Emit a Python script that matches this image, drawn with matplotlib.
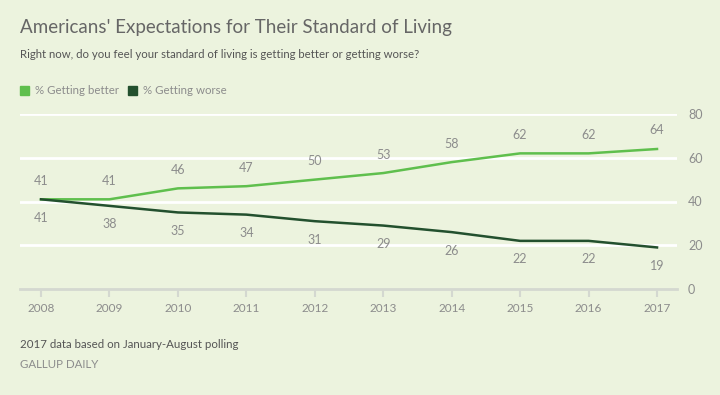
import matplotlib.pyplot as plt
from matplotlib.patches import Rectangle

years = [2008, 2009, 2010, 2011, 2012, 2013, 2014, 2015, 2016, 2017]
better = [41, 41, 46, 47, 50, 53, 58, 62, 62, 64]
worse = [41, 38, 35, 34, 31, 29, 26, 22, 22, 19]
yticks = [0, 20, 40, 60, 80]

bg = '#ecf3de'
c_better = '#5fbf4d'
c_worse = '#23502e'
txt = '#8c8c8c'

plt.rcParams['font.family'] = ['Lato', 'DejaVu Sans']

fig = plt.figure(figsize=(7.2, 3.95), dpi=100, facecolor=bg)
ax = fig.add_axes([20 / 720, 106 / 395, 657 / 720, 175 / 395], facecolor=bg)

for y in yticks[1:]:
    ax.axhline(y, color='white', lw=2, zorder=1)

ax.plot(years, better, color=c_better, lw=1.8, zorder=3)
ax.plot(years, worse, color=c_worse, lw=1.8, zorder=3)

for x, b, w in zip(years, better, worse):
    ax.annotate(str(b), (x, b), xytext=(0, 9), textcoords='offset points',
                ha='center', va='bottom', fontsize=9, color=txt)
    ax.annotate(str(w), (x, w), xytext=(0, -9), textcoords='offset points',
                ha='center', va='top', fontsize=9, color=txt)

ax.set_xlim(2007.693, 2017.292)
ax.set_ylim(0, 80)
ax.set_xticks(years)
ax.set_yticks(yticks)
ax.yaxis.tick_right()
ax.tick_params(axis='y', length=0, pad=8, labelsize=9, labelcolor=txt)
ax.tick_params(axis='x', length=6, width=1.5, color='#d4d8d0', pad=4,
               labelsize=8.5, labelcolor=txt)
for s in ['top', 'left', 'right']:
    ax.spines[s].set_visible(False)
ax.spines['bottom'].set_color('#d4d8d0')
ax.spines['bottom'].set_linewidth(2)

fig.text(20 / 720, 1 - 27 / 395, "Americans' Expectations for Their Standard of Living",
         fontsize=13.5, color='#666666', va='center')
fig.text(20 / 720, 1 - 55 / 395,
         "Right now, do you feel your standard of living is getting better or getting worse?",
         fontsize=8.2, color='#555555', va='center')

# legend
fig.patches.append(Rectangle((20 / 720, 1 - 95 / 395), 9 / 720, 9 / 395,
                             transform=fig.transFigure, color=c_better))
fig.text(35 / 720, 1 - 90 / 395, '% Getting better', fontsize=8.3, color=txt, va='center')
fig.patches.append(Rectangle((128 / 720, 1 - 95 / 395), 9 / 720, 9 / 395,
                             transform=fig.transFigure, color=c_worse))
fig.text(143 / 720, 1 - 90 / 395, '% Getting worse', fontsize=8.3, color=txt, va='center')

fig.text(20 / 720, 1 - 345 / 395, '2017 data based on January-August polling',
         fontsize=8.3, color='#555555', va='center')
fig.text(20 / 720, 1 - 365 / 395, 'GALLUP DAILY',
         fontsize=8.3, color=txt, va='center')

fig.savefig('out.png', dpi=100, facecolor=bg)
